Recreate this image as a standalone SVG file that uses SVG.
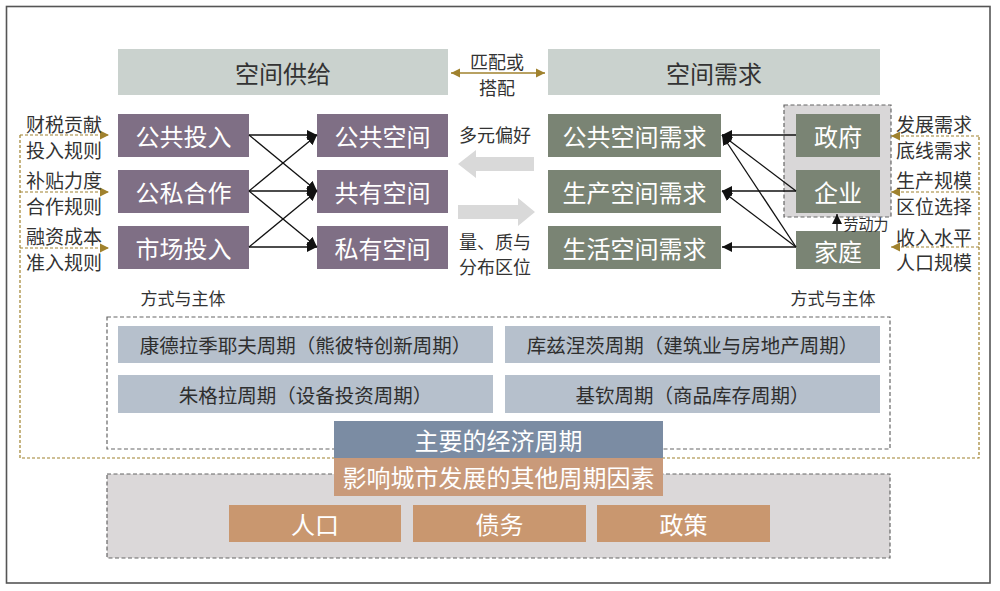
<svg xmlns="http://www.w3.org/2000/svg" width="1000" height="591" viewBox="0 0 1000 591">
<defs>
<style>
text{font-family:"Noto Sans CJK SC","Noto Sans",sans-serif;dominant-baseline:central;text-anchor:middle}
.hdr{fill:#cad2ce}
.pur{fill:#7f6f85}
.grn{fill:#7a8474}
.cyc{fill:#b6c0cc}
.tan{fill:#c9976f}
.wt{fill:#ffffff;font-size:24px}
.dk{fill:#333333;font-size:19px}
.ct{fill:#2e2e2e;font-size:19.5px}
.gold{stroke:#a0822e;stroke-width:1.2;stroke-dasharray:3 2;fill:none}
.gdash{stroke:#666;stroke-width:1.2;stroke-dasharray:4 2.5}
.blk{stroke:#111;stroke-width:1.3;fill:none}
</style>
<marker id="ab" viewBox="0 0 10 10" refX="10" refY="5" markerWidth="10" markerHeight="10" markerUnits="userSpaceOnUse" orient="auto">
<path d="M0,0 L10,5 L0,10 Z" fill="#111"/>
</marker>
<marker id="ag" viewBox="0 0 10 10" refX="10" refY="5" markerWidth="9" markerHeight="10" markerUnits="userSpaceOnUse" orient="auto">
<path d="M0,0 L10,5 L0,10 Z" fill="#a0822e"/>
</marker>
<marker id="ag2" viewBox="0 0 10 10" refX="0" refY="5" markerWidth="9" markerHeight="10" markerUnits="userSpaceOnUse" orient="auto">
<path d="M10,0 L0,5 L10,10 Z" fill="#a0822e"/>
</marker>
</defs>
<rect x="0" y="0" width="1000" height="591" fill="#ffffff"/>
<rect x="6.5" y="6.5" width="983.5" height="576.5" fill="none" stroke="#555" stroke-width="1.6"/>

<!-- background frames -->
<g id="frames">
<rect x="107" y="474" width="783" height="84" fill="#dbd8d9" class="gdash"/>
<rect x="107" y="317" width="783" height="132" fill="#ffffff" class="gdash"/>
<rect x="784" y="105" width="107" height="112" fill="#d9d7d8" class="gdash"/>
</g>

<!-- gold dashed feedback lines -->
<g id="feedback">
<path class="gold" d="M20,135 V458 H979 V136"/>
<path class="gold" d="M20,135 H109" marker-end="url(#ag)"/>
<path class="gold" d="M20,192 H109" marker-end="url(#ag)"/>
<path class="gold" d="M20,248 H109" marker-end="url(#ag)"/>
<path class="gold" d="M979,136 H891" marker-end="url(#ag)"/>
<path class="gold" d="M979,192 H891" marker-end="url(#ag)"/>
<path class="gold" d="M979,247 H891" marker-end="url(#ag)"/>
</g>

<!-- headers -->
<g id="supply"><rect class="hdr" x="118" y="49" width="330" height="46"/><text x="283" y="72" class="dk" style="font-size:24px">空间供给</text></g>
<g id="demand"><rect class="hdr" x="548" y="49" width="332" height="46"/><text x="714" y="72" class="dk" style="font-size:24px">空间需求</text></g>

<!-- left input labels -->
<g id="left-labels">
<text x="64" y="123" class="dk">财税贡献</text>
<text x="64" y="149" class="dk">投入规则</text>
<text x="64" y="179" class="dk">补贴力度</text>
<text x="64" y="205" class="dk">合作规则</text>
<text x="64" y="235.5" class="dk">融资成本</text>
<text x="64" y="261" class="dk">准入规则</text>
</g>

<!-- right input labels -->
<g id="right-labels">
<text x="934" y="123" class="dk">发展需求</text>
<text x="934" y="149" class="dk">底线需求</text>
<text x="934" y="179.5" class="dk">生产规模</text>
<text x="934" y="205" class="dk">区位选择</text>
<text x="934" y="236" class="dk">收入水平</text>
<text x="934" y="261.5" class="dk">人口规模</text>
</g>

<!-- supply side nodes -->
<g id="n-public-invest"><rect class="pur" x="118" y="114" width="131" height="43"/><text class="wt" x="183.5" y="135.5">公共投入</text></g>
<g id="n-ppp"><rect class="pur" x="118" y="170" width="131" height="43"/><text class="wt" x="183.5" y="191.5">公私合作</text></g>
<g id="n-market-invest"><rect class="pur" x="118" y="226" width="131" height="43"/><text class="wt" x="183.5" y="247.5">市场投入</text></g>
<g id="n-public-space"><rect class="pur" x="317" y="114" width="131" height="43"/><text class="wt" x="382.5" y="135.5">公共空间</text></g>
<g id="n-shared-space"><rect class="pur" x="317" y="170" width="131" height="43"/><text class="wt" x="382.5" y="191.5">共有空间</text></g>
<g id="n-private-space"><rect class="pur" x="317" y="226" width="131" height="43"/><text class="wt" x="382.5" y="247.5">私有空间</text></g>

<!-- demand side nodes -->
<g id="n-public-demand"><rect class="grn" x="548" y="114" width="173" height="43"/><text class="wt" x="634.5" y="135.5">公共空间需求</text></g>
<g id="n-prod-demand"><rect class="grn" x="548" y="170" width="173" height="43"/><text class="wt" x="634.5" y="191.5">生产空间需求</text></g>
<g id="n-life-demand"><rect class="grn" x="548" y="226" width="173" height="43"/><text class="wt" x="634.5" y="247.5">生活空间需求</text></g>
<g id="n-gov"><rect class="grn" x="796" y="114" width="84" height="43"/><text class="wt" x="838" y="135.5">政府</text></g>
<g id="n-firm"><rect class="grn" x="796" y="170" width="84" height="43"/><text class="wt" x="838" y="191.5">企业</text></g>
<g id="n-household"><rect class="grn" x="796" y="231" width="84" height="38"/><text class="wt" x="838" y="250">家庭</text></g>

<!-- middle labels and block arrows -->
<g id="middle">
<text x="497" y="61" class="dk" style="font-size:18px">匹配或</text>
<text x="497" y="87" class="dk" style="font-size:18px">搭配</text>
<text x="495" y="134" class="dk" style="font-size:18px">多元偏好</text>
<text x="495" y="241" class="dk" style="font-size:18px">量、质与</text>
<text x="495" y="266" class="dk" style="font-size:18px">分布区位</text>
<polygon points="458,164 476,150 476,157 534,157 534,171 476,171 476,178" fill="#d9d9d9"/>
<polygon points="535,212 518,198 518,205 458,205 458,219 518,219 518,226" fill="#d9d9d9"/>
<text x="183" y="297" class="dk" style="font-size:17px">方式与主体</text>
<text x="833" y="297" class="dk" style="font-size:17px">方式与主体</text>
<text x="866" y="223" class="dk" style="font-size:15px">劳动力</text>
</g>

<!-- connectors -->
<g id="connectors">
<line x1="451" y1="73" x2="545" y2="73" stroke="#a0822e" stroke-width="1.4" marker-start="url(#ag2)" marker-end="url(#ag)"/>
<line class="blk" x1="249" y1="135" x2="317" y2="135" marker-end="url(#ab)"/>
<line class="blk" x1="249" y1="135" x2="317" y2="191" marker-end="url(#ab)"/>
<line class="blk" x1="249" y1="191" x2="317" y2="135" marker-end="url(#ab)"/>
<line class="blk" x1="249" y1="191" x2="317" y2="191" marker-end="url(#ab)"/>
<line class="blk" x1="249" y1="191" x2="317" y2="247" marker-end="url(#ab)"/>
<line class="blk" x1="249" y1="247" x2="317" y2="191" marker-end="url(#ab)"/>
<line class="blk" x1="249" y1="247" x2="317" y2="247" marker-end="url(#ab)"/>
<line class="blk" x1="796" y1="135" x2="722" y2="135" marker-end="url(#ab)"/>
<line class="blk" x1="796" y1="191" x2="722" y2="135" marker-end="url(#ab)"/>
<line class="blk" x1="796" y1="191" x2="722" y2="191" marker-end="url(#ab)"/>
<line class="blk" x1="796" y1="247" x2="722" y2="135" marker-end="url(#ab)"/>
<line class="blk" x1="796" y1="247" x2="722" y2="191" marker-end="url(#ab)"/>
<line class="blk" x1="796" y1="247" x2="722" y2="247" marker-end="url(#ab)"/>
<line class="blk" x1="837" y1="231" x2="837" y2="214" marker-end="url(#ab)"/>
</g>

<!-- economic cycles -->
<g id="c-kondratiev"><rect class="cyc" x="118" y="326" width="375" height="37"/><text class="ct" x="305.5" y="344.5">康德拉季耶夫周期（熊彼特创新周期）</text></g>
<g id="c-kuznets"><rect class="cyc" x="505" y="326" width="375" height="37"/><text class="ct" x="692.5" y="344.5">库兹涅茨周期（建筑业与房地产周期）</text></g>
<g id="c-juglar"><rect class="cyc" x="118" y="375" width="375" height="38"/><text class="ct" x="305.5" y="394">朱格拉周期（设备投资周期）</text></g>
<g id="c-kitchin"><rect class="cyc" x="505" y="375" width="375" height="38"/><text class="ct" x="692.5" y="394">基钦周期（商品库存周期）</text></g>
<g id="main-cycles"><rect x="334" y="421" width="329" height="37" fill="#7b8ca3"/><text class="wt" x="498.5" y="439.5">主要的经济周期</text></g>
<g id="other-factors"><rect x="334" y="458" width="329" height="38" fill="#c99a7a"/><text class="wt" x="498.5" y="476.5">影响城市发展的其他周期因素</text></g>
<g id="f-population"><rect class="tan" x="229" y="505" width="172" height="37"/><text class="wt" x="315" y="523.5">人口</text></g>
<g id="f-debt"><rect class="tan" x="413" y="505" width="173" height="37"/><text class="wt" x="499.5" y="523.5">债务</text></g>
<g id="f-policy"><rect class="tan" x="597" y="505" width="173" height="37"/><text class="wt" x="683.5" y="523.5">政策</text></g>
</svg>
